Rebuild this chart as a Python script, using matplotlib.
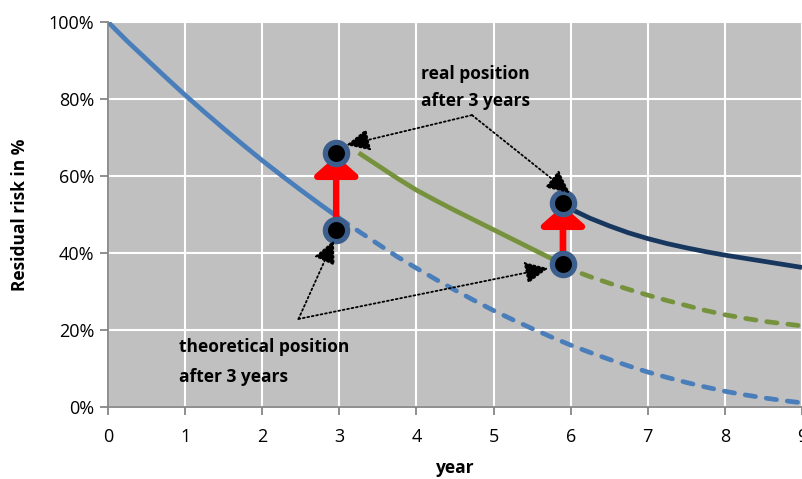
import matplotlib
matplotlib.use("Agg")
import matplotlib.pyplot as plt
from matplotlib.ticker import PercentFormatter

plt.rcParams["font.family"] = ["Open Sans", "DejaVu Sans"]

# values
blue_x = [0, 0.25, 0.5, 0.75, 1, 1.25, 1.5, 1.75, 2, 2.25, 2.5, 2.75, 3]
blue_y = [1.00, 0.95, 0.903, 0.856, 0.81, 0.766, 0.723, 0.681, 0.64, 0.601,
          0.563, 0.526, 0.49]
blue_dash_x = [3, 3.25, 3.5, 3.75, 4, 4.25, 4.5, 4.75, 5, 5.25, 5.5, 5.75, 6,
               6.25, 6.5, 6.75, 7, 7.25, 7.5, 7.75, 8, 8.25, 8.5, 8.75, 9]
blue_dash_y = [0.49, 0.456, 0.423, 0.39, 0.36, 0.331, 0.303, 0.276, 0.25, 0.226,
               0.203, 0.181, 0.16, 0.141, 0.123, 0.106, 0.09, 0.076, 0.063,
               0.051, 0.04, 0.031, 0.023, 0.016, 0.01]

green_x = [3.25, 3.5, 3.75, 4, 4.25, 4.5, 4.75, 5, 5.25, 5.5, 5.75, 5.9]
green_y = [0.66, 0.627, 0.594, 0.563, 0.536, 0.51, 0.485, 0.46, 0.435, 0.41,
           0.385, 0.37]
green_dash_x = [5.9, 6, 6.25, 6.5, 6.75, 7, 7.25, 7.5, 7.75, 8, 8.25, 8.5, 8.75, 9]
green_dash_y = [0.37, 0.357, 0.338, 0.321, 0.305, 0.29, 0.276, 0.263, 0.25,
                0.239, 0.23, 0.222, 0.216, 0.21]

navy_x = [5.9, 6, 6.25, 6.5, 6.75, 7, 7.25, 7.5, 7.75, 8, 8.25, 8.5, 8.75, 9]
navy_y = [0.53, 0.514, 0.49, 0.47, 0.452, 0.437, 0.424, 0.413, 0.403, 0.394,
          0.386, 0.378, 0.37, 0.362]

dot_x = [2.96, 2.96, 5.9, 5.9]
dot_y = [0.46, 0.66, 0.37, 0.53]

real_label = "real position\nafter 3 years"
theo_label = "theoretical position\nafter 3 years"

c_blue = "#4a7ebb"
c_green = "#76923c"
c_navy = "#17375e"

fig = plt.figure(figsize=(8.02, 4.79), dpi=100)
ax = fig.add_axes([0.1347, 0.151, 0.8653, 0.803])
ax.set_facecolor("#c0c0c0")

lw = 3.4
dash = dict(lw=lw, dashes=(2.2, 2.3), dash_capstyle="round")
ax.plot(blue_x, blue_y, color=c_blue, lw=lw, solid_capstyle="butt")
ax.plot(blue_dash_x, blue_dash_y, color=c_blue, **dash)
ax.plot(green_x, green_y, color=c_green, lw=lw, solid_capstyle="butt")
ax.plot(green_dash_x, green_dash_y, color=c_green, **dash)
ax.plot(navy_x, navy_y, color=c_navy, lw=lw, solid_capstyle="butt")

# red arrows: theoretical -> real
for i in (0, 2):
    ax.annotate("", xy=(dot_x[i + 1], dot_y[i + 1]), xytext=(dot_x[i], dot_y[i]),
                arrowprops=dict(arrowstyle="-|>,head_length=0.6,head_width=0.68",
                                color="red", lw=4.8, shrinkA=0, shrinkB=2,
                                mutation_scale=20),
                zorder=4)

ax.plot(dot_x, dot_y, "o", ms=16, mfc="black", mec="#3b5e8c", mew=3.8, zorder=5)

# dotted pointer lines
def pointer(src, dst):
    ax.annotate("", xy=dst, xytext=src,
                arrowprops=dict(arrowstyle="-|>,head_length=0.8,head_width=0.38",
                                color="black", lw=1.3, ls=(0, (1, 1.5)),
                                shrinkA=0, shrinkB=0, mutation_scale=18),
                zorder=6)

pointer((4.72, 0.758), (3.09, 0.68))
pointer((4.72, 0.758), (5.99, 0.555))
pointer((2.47, 0.228), (2.93, 0.433))
pointer((2.47, 0.228), (5.71, 0.36))

ax.text(4.76, 0.83, real_label, ha="center", va="center", fontsize=12.5,
        fontweight="bold", linespacing=1.7)
ax.text(0.92, 0.115, theo_label, ha="left", va="center", fontsize=12.5,
        fontweight="bold", linespacing=1.85)

ax.set_xlim(0, 8.96)
ax.set_ylim(0, 1.0)
ax.set_xticks(range(0, 10))
ax.set_yticks([0, 0.2, 0.4, 0.6, 0.8, 1.0])
ax.yaxis.set_major_formatter(PercentFormatter(1.0, decimals=0))
ax.grid(True, color="white", lw=1.5)
ax.set_axisbelow(True)
for s in ("top", "right"):
    ax.spines[s].set_visible(False)
for s in ("left", "bottom"):
    ax.spines[s].set_color("#868686")
    ax.spines[s].set_linewidth(1.3)
ax.tick_params(length=6, width=1.3, color="#868686", labelsize=13)
ax.tick_params(axis="x", pad=9)
ax.tick_params(axis="y", pad=4)

ax.set_xlabel("year", fontsize=12.5, fontweight="bold", labelpad=10)
ax.set_ylabel("Residual risk in %", fontsize=12.5, fontweight="bold", labelpad=14)

fig.savefig("out.png", dpi=100)
